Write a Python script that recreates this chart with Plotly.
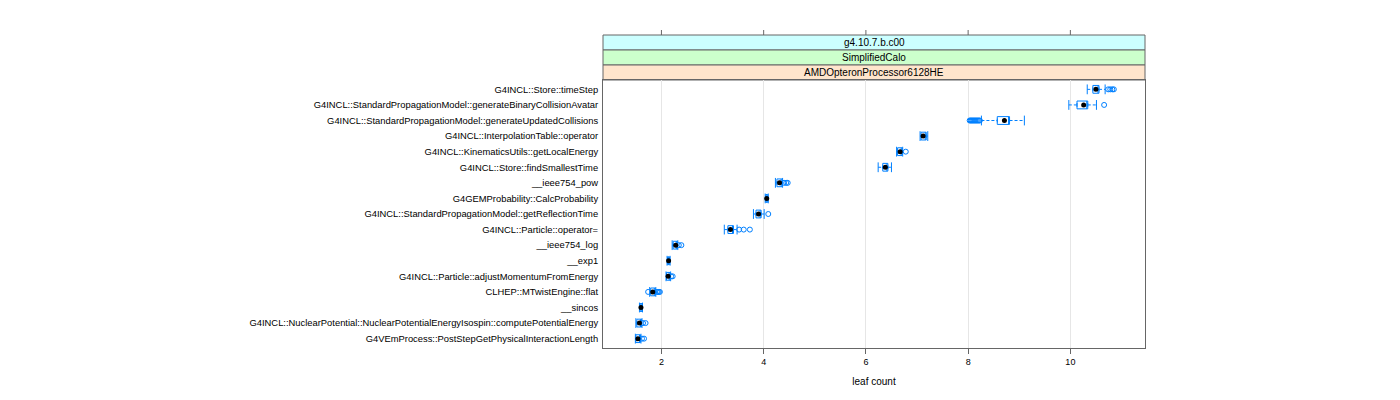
import plotly.graph_objects as go

# ---- data, top row first ----
functions = [
    "G4INCL::Store::timeStep",
    "G4INCL::StandardPropagationModel::generateBinaryCollisionAvatar",
    "G4INCL::StandardPropagationModel::generateUpdatedCollisions",
    "G4INCL::InterpolationTable::operator",
    "G4INCL::KinematicsUtils::getLocalEnergy",
    "G4INCL::Store::findSmallestTime",
    "__ieee754_pow",
    "G4GEMProbability::CalcProbability",
    "G4INCL::StandardPropagationModel::getReflectionTime",
    "G4INCL::Particle::operator=",
    "__ieee754_log",
    "__exp1",
    "G4INCL::Particle::adjustMomentumFromEnergy",
    "CLHEP::MTwistEngine::flat",
    "__sincos",
    "G4INCL::NuclearPotential::NuclearPotentialEnergyIsospin::computePotentialEnergy",
    "G4VEmProcess::PostStepGetPhysicalInteractionLength",
]
whisker_low = [10.33, 9.97, 8.26, 7.06, 6.60, 6.24, 4.23, 4.03, 3.80, 3.23, 2.21, 2.11, 2.09, 1.77, 1.57, 1.50, 1.49]
q1 =          [10.44, 10.13, 8.57, 7.08, 6.62, 6.33, 4.26, 4.04, 3.85, 3.30, 2.23, 2.12, 2.10, 1.79, 1.58, 1.52, 1.50]
median =      [10.50, 10.26, 8.71, 7.12, 6.67, 6.38, 4.31, 4.06, 3.90, 3.35, 2.28, 2.14, 2.13, 1.83, 1.60, 1.57, 1.54]
q3 =          [10.56, 10.34, 8.81, 7.18, 6.71, 6.43, 4.36, 4.08, 3.95, 3.41, 2.31, 2.16, 2.17, 1.88, 1.62, 1.61, 1.59]
whisker_high = [10.68, 10.51, 9.10, 7.21, 6.72, 6.50, 4.37, 4.09, 4.01, 3.48, 2.32, 2.17, 2.18, 1.89, 1.63, 1.62, 1.60]
outliers = [
    [10.74, 10.78, 10.82, 10.85],
    [10.66],
    [8.03, 8.05, 8.07, 8.09, 8.11, 8.13, 8.15, 8.17, 8.19, 8.21, 8.23],
    [],
    [6.78],
    [],
    [4.40, 4.44, 4.47],
    [],
    [4.09],
    [3.52, 3.61, 3.73],
    [2.34, 2.39],
    [],
    [2.19, 2.22],
    [1.74, 1.91, 1.93, 1.95, 1.97],
    [],
    [1.64, 1.69],
    [1.62, 1.66],
]
strip_labels = ["g4.10.7.b.c00", "SimplifiedCalo", "AMDOpteronProcessor6128HE"]
strip_colors = ["#CCFFFF", "#CCFFCC", "#FFE5CC"]
x_ticks = [2, 4, 6, 8, 10]
x_title = "leaf count"

BLUE = "#0080FF"
FONT = "Liberation Sans, Arial, sans-serif"

fig = go.Figure()

# boxes (no whiskers: fences at quartiles; median line hidden on the box edge)
fig.add_trace(go.Box(
    y=functions, q1=q1, median=q3, q3=q3, lowerfence=q1, upperfence=q3,
    orientation="h", fillcolor="rgba(255,255,255,0)", line=dict(color=BLUE, width=1),
    width=0.5, boxpoints=False, hoverinfo="skip", showlegend=False,
))

# dashed whiskers
wx, wy = [], []
for f, lo, a, b, hi in zip(functions, whisker_low, q1, q3, whisker_high):
    wx += [lo, a, None, b, hi, None]
    wy += [f, f, None, f, f, None]
fig.add_trace(go.Scatter(x=wx, y=wy, mode="lines",
                         line=dict(color=BLUE, width=1, dash="3px,2px"),
                         hoverinfo="skip", showlegend=False))
# whisker caps
cx = whisker_low + whisker_high
cy = functions + functions
fig.add_trace(go.Scatter(x=cx, y=cy, mode="markers",
                         marker=dict(symbol="line-ns", size=7, line=dict(color=BLUE, width=1)),
                         hoverinfo="skip", showlegend=False))
# outliers
ox, oy = [], []
for f, vals in zip(functions, outliers):
    for v in vals:
        ox.append(v)
        oy.append(f)
fig.add_trace(go.Scatter(x=ox, y=oy, mode="markers",
                         marker=dict(symbol="circle-open", size=5, color=BLUE, line=dict(width=1)),
                         showlegend=False))
# medians
fig.add_trace(go.Scatter(x=median, y=functions, mode="markers",
                         marker=dict(symbol="circle", size=5, color="black"),
                         showlegend=False))

# geometry (page has an 8px body margin)
T, B = 72, 60
H = 400 - T - B
def py(px):
    # px measured in figure coordinates
    return (400 - B - px) / H

shapes = []
strip_top = 27
strip_h = 15
for i, (lab, col) in enumerate(zip(strip_labels, strip_colors)):
    y0 = py(strip_top + (i + 1) * strip_h)
    y1 = py(strip_top + i * strip_h)
    shapes.append(dict(type="rect", xref="paper", yref="paper", x0=0, x1=1, y0=y0, y1=y1,
                       fillcolor=col, line=dict(color="#666666", width=1), layer="below"))
    fig.add_annotation(text=lab, xref="paper", yref="paper", x=0.5, y=(y0 + y1) / 2,
                       showarrow=False, font=dict(family=FONT, size=10, color="black"),
                       yanchor="middle")
# top ticks above strips
for t in x_ticks:
    shapes.append(dict(type="line", xref="x", yref="paper", x0=t, x1=t,
                       y0=py(strip_top), y1=py(strip_top - 5),
                       line=dict(color="#666666", width=1)))

fig.update_layout(
    width=1400, height=400,
    margin=dict(l=595, r=263, t=T, b=B),
    paper_bgcolor="white", plot_bgcolor="white",
    shapes=shapes,
    font=dict(family=FONT, size=9, color="black"),
    xaxis=dict(range=[0.857, 11.46], tickvals=x_ticks, ticks="outside", ticklen=5,
               tickcolor="#666666", showgrid=True, gridcolor="#E6E6E6", gridwidth=1,
               showline=True, linecolor="#666666", linewidth=1, mirror=True,
               zeroline=False, tickfont=dict(size=9),
               title=dict(text=x_title, font=dict(size=10), standoff=12)),
    yaxis=dict(categoryorder="array", categoryarray=functions, range=[16.6, -0.6],
               showgrid=False, showline=True, linecolor="#666666", linewidth=1,
               mirror=True, ticks="", tickfont=dict(size=9.4), zeroline=False,
               ticklabelstandoff=2),
)

fig.write_html("out.html")
